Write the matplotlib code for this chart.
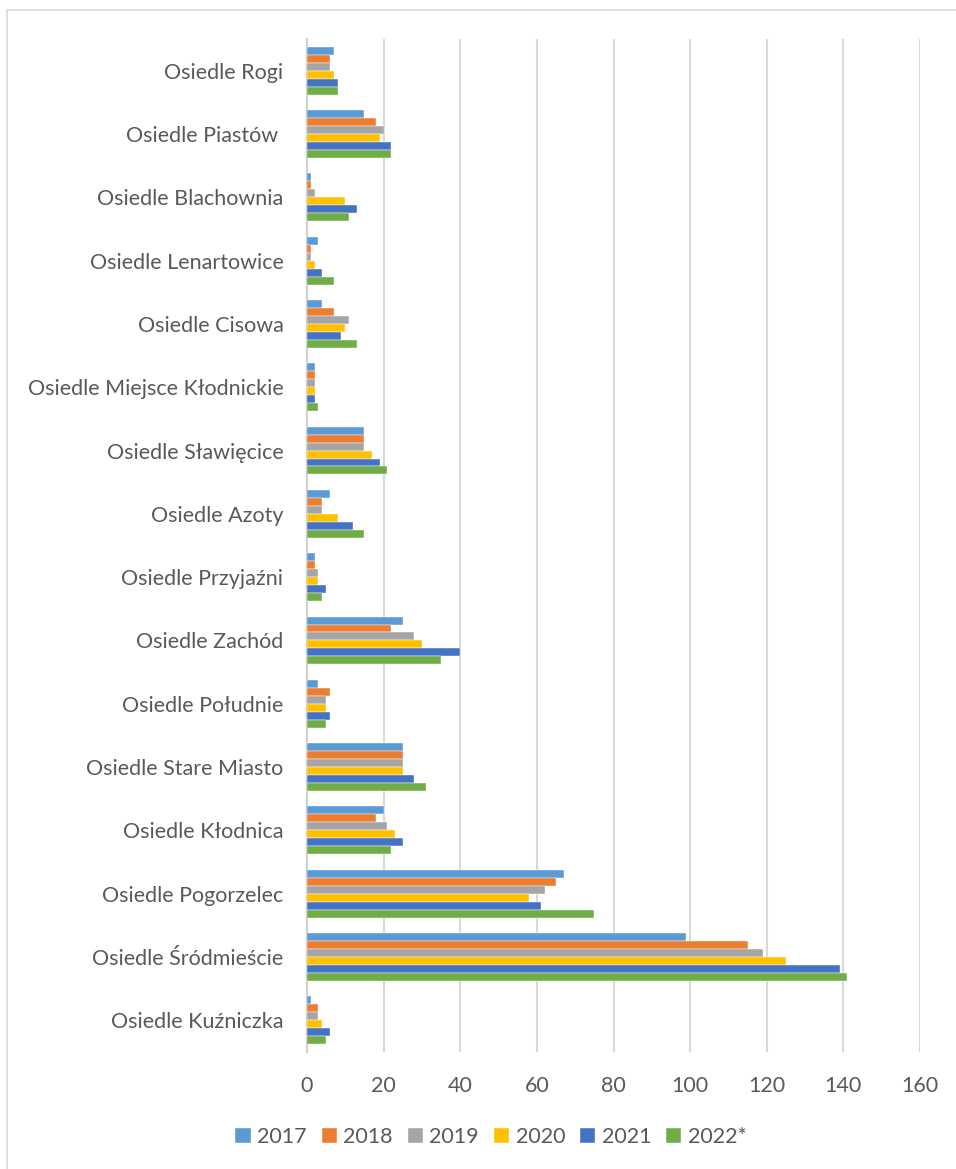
import numpy as np
import matplotlib.pyplot as plt
from matplotlib.patches import Rectangle

plt.rcParams['font.family'] = ['Lato', 'DejaVu Sans']

# categories listed bottom -> top (barh draws the first one at the bottom)
osiedla = ['Osiedle Kuźniczka', 'Osiedle Śródmieście', 'Osiedle Pogorzelec',
           'Osiedle Kłodnica', 'Osiedle Stare Miasto', 'Osiedle Południe',
           'Osiedle Zachód', 'Osiedle Przyjaźni', 'Osiedle Azoty',
           'Osiedle Sławięcice', 'Osiedle Miejsce Kłodnickie', 'Osiedle Cisowa',
           'Osiedle Lenartowice', 'Osiedle Blachownia', 'Osiedle Piastów ',
           'Osiedle Rogi']
lata = ['2017', '2018', '2019', '2020', '2021', '2022*']

v2017 = [1, 99, 67, 20, 25, 3, 25, 2, 6, 15, 2, 4, 3, 1, 15, 7]
v2018 = [3, 115, 65, 18, 25, 6, 22, 2, 4, 15, 2, 7, 1, 1, 18, 6]
v2019 = [3, 119, 62, 21, 25, 5, 28, 3, 4, 15, 2, 11, 1, 2, 20, 6]
v2020 = [4, 125, 58, 23, 25, 5, 30, 3, 8, 17, 2, 10, 2, 10, 19, 7]
v2021 = [6, 139, 61, 25, 28, 6, 40, 5, 12, 19, 2, 9, 4, 13, 22, 8]
v2022 = [5, 141, 75, 22, 31, 5, 35, 4, 15, 21, 3, 13, 7, 11, 22, 8]

series = [v2017, v2018, v2019, v2020, v2021, v2022]
kolory = ['#5B9BD5', '#ED7D31', '#A5A5A5', '#FFC000', '#4472C4', '#70AD47']

fig = plt.figure(figsize=(9.56, 11.69), dpi=100)
ax = fig.add_axes([307/956, 1 - 1052/1169, (920 - 307)/956, (1052 - 39)/1169])

# light frame around the whole chart, like the Excel chart area
fig.patches.append(Rectangle((7/956, -0.05), 1.0, 1 - 10/1169 + 0.05,
                             transform=fig.transFigure, fill=False,
                             edgecolor='#d9d9d9', linewidth=1.2))

y = np.arange(len(osiedla))
h = 0.126
for i, (vals, kol, rok) in enumerate(zip(series, kolory, lata)):
    off = (2.5 - i) * h
    ax.barh(y + off, vals, height=h, color=kol, label=rok,
            edgecolor='white', linewidth=0.3, zorder=3)

ax.set_xlim(0, 160)
ax.set_ylim(-0.5, len(osiedla) - 0.5)
ax.set_xticks(np.arange(0, 161, 20))
ax.set_yticks(y)
ax.set_yticklabels(osiedla)
ax.grid(axis='x', color='#d9d9d9', linewidth=1.5, zorder=0)
ax.set_axisbelow(True)
for s in ['top', 'right', 'bottom']:
    ax.spines[s].set_visible(False)
ax.spines['left'].set_color('#d0d0d0')
ax.spines['left'].set_linewidth(1.5)
ax.tick_params(axis='both', length=0, labelsize=15.5, colors='#595959')
ax.tick_params(axis='y', pad=17)
ax.tick_params(axis='x', pad=17)

leg = fig.legend(loc='center', bbox_to_anchor=(491/956, 1 - 1137/1169),
                 ncol=6, frameon=False, fontsize=15.5, handlelength=0.7,
                 handleheight=0.7, handletextpad=0.3, columnspacing=0.7)
for t in leg.get_texts():
    t.set_color('#595959')

fig.savefig('out.png', dpi=100)
